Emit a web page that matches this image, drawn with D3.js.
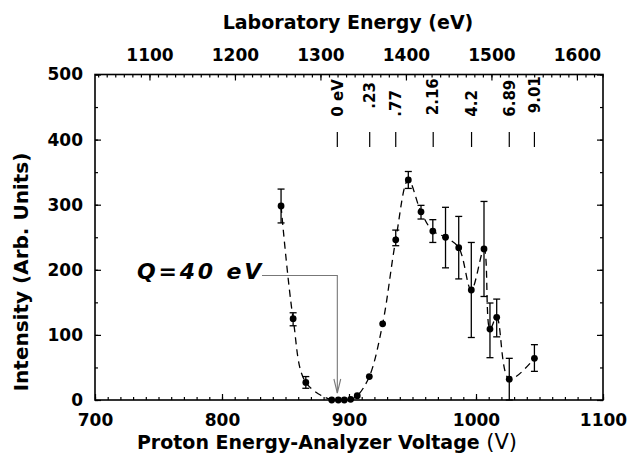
<!DOCTYPE html>
<html>
<head>
<meta charset="utf-8">
<script src="https://cdn.jsdelivr.net/npm/d3@7"></script>
<style>
  html, body { margin: 0; padding: 0; background: #fff; }
  svg { display: block; }
  text { font-family: "DejaVu Sans", sans-serif; fill: #000; }
</style>
</head>
<body>
<svg id="chart" width="628" height="453"></svg>
<script>
// Measured spectrum: analyzer voltage (V) vs. intensity (arb. units)
const voltage   = [846.5, 856, 866, 886.4, 891.6, 896.3, 901.3, 906.5, 916, 926.5,
                   936.8, 946.7, 956.7, 966, 976, 986.4, 996.3, 1006.3, 1011, 1016.3, 1026.2, 1046];
const intensity = [298, 125, 27, 0, 0, 0, 1, 6.5, 36, 117,
                   246, 338, 289, 259.5, 250, 234, 169, 232, 109, 127, 32, 64];
// error bar limits (null = no bar drawn)
const errLow    = [272, 114, 18, null, null, null, null, null, null, null,
                   237, 325, 278, 242, 203, 186, 96, 159, 65, 97, 0, 44];
const errHigh   = [324, 134, 36, null, null, null, null, null, null, null,
                   261, 351, 299, 277, 296, 282, 242, 305, 149, 155, 64, 85];

// Excitation levels marked along the top of the plot
const levelVoltage = [890.8, 916.3, 936.8, 966.3, 996.5, 1026.2, 1046];
const levelLabels  = ["0 eV", ".23", ".77", "2.16", "4.2", "6.89", "9.01"];

// Axis ticks
const voltageTicks = [700, 800, 900, 1000, 1100];
const energyTicks  = [1100, 1200, 1300, 1400, 1500, 1600];
const intensityTicks = [0, 100, 200, 300, 400, 500];

// Laboratory energy at the two ends of the voltage range
const energyAtVmin = 1036.3, energyAtVmax = 1630.5;

const qLabel = "Q=40 eV";

const svg = d3.select("#chart");
const plotL = 95, plotR = 603, plotT = 74.5, plotB = 400;

const x = d3.scaleLinear().domain([700, 1100]).range([plotL, plotR]);
const xTop = d3.scaleLinear().domain([energyAtVmin, energyAtVmax]).range([plotL, plotR]);
const y = d3.scaleLinear().domain([0, 500]).range([plotB, plotT]);

function styleAxis(g, size) {
  g.selectAll("path.domain").remove();
  g.selectAll("line").attr("stroke", "#000").attr("stroke-width", 1.2);
  g.selectAll("text").attr("font-size", size).attr("font-weight", "bold")
    .attr("font-family", "DejaVu Sans").attr("fill", "#000");
}

// minor ticks
svg.append("g").attr("transform", `translate(0,${plotB})`)
  .call(d3.axisBottom(x).tickValues(d3.range(700, 1101, 10)).tickSize(-3).tickFormat(""))
  .call(g => styleAxis(g, 0));
svg.append("g").attr("transform", `translate(0,${plotT})`)
  .call(d3.axisTop(xTop).tickValues(d3.range(1040, 1631, 10)).tickSize(-3).tickFormat(""))
  .call(g => styleAxis(g, 0));
svg.append("g").attr("transform", `translate(${plotL},0)`)
  .call(d3.axisLeft(y).tickValues(d3.range(0, 501, 50)).tickSize(-3).tickFormat(""))
  .call(g => styleAxis(g, 0));
svg.append("g").attr("transform", `translate(${plotR},0)`)
  .call(d3.axisRight(y).tickValues(d3.range(0, 501, 50)).tickSize(-3).tickFormat(""))
  .call(g => styleAxis(g, 0));

// major ticks with labels
svg.append("g").attr("transform", `translate(0,${plotB})`)
  .call(d3.axisBottom(x).tickValues(voltageTicks).tickSize(-6).tickPadding(14).tickFormat(d3.format("d")))
  .call(g => styleAxis(g, 17));
svg.append("g").attr("transform", `translate(0,${plotT})`)
  .call(d3.axisTop(xTop).tickValues(energyTicks).tickSize(-6).tickPadding(14).tickFormat(d3.format("d")))
  .call(g => styleAxis(g, 17));
svg.append("g").attr("transform", `translate(${plotL},0)`)
  .call(d3.axisLeft(y).tickValues(intensityTicks).tickSize(-6).tickPadding(12).tickFormat(d3.format("d")))
  .call(g => styleAxis(g, 17));
svg.append("g").attr("transform", `translate(${plotR},0)`)
  .call(d3.axisRight(y).tickValues(intensityTicks).tickSize(-6).tickFormat(""))
  .call(g => styleAxis(g, 0));

// frame
svg.append("rect").attr("x", plotL).attr("y", plotT)
  .attr("width", plotR - plotL).attr("height", plotB - plotT)
  .attr("fill", "none").attr("stroke", "#000").attr("stroke-width", 1.6);

// axis titles
svg.append("text").attr("x", 348).attr("y", 29).attr("text-anchor", "middle")
  .attr("font-size", 19).attr("font-weight", "bold").text("Laboratory Energy (eV)");

const xt = svg.append("text").attr("x", 327).attr("y", 449).attr("text-anchor", "middle")
  .attr("font-size", 19).attr("font-weight", "bold");
xt.append("tspan").text("Proton Energy-Analyzer Voltage ");
xt.append("tspan").attr("font-weight", "normal").attr("font-size", 21).text("(V)");

svg.append("text").attr("transform", "translate(28,272) rotate(-90)")
  .attr("text-anchor", "middle").attr("font-size", 20).attr("font-weight", "bold")
  .text("Intensity (Arb. Units)");

// level markers
const labelLift = [0, 8, 0, 1.5, 0, 0, 3.5];
const levels = svg.append("g");
levelVoltage.forEach((v, i) => {
  levels.append("line").attr("x1", x(v)).attr("x2", x(v)).attr("y1", 132).attr("y2", 147)
    .attr("stroke", "#000").attr("stroke-width", 1.2);
  levels.append("text")
    .attr("transform", `translate(${x(v)},${116.7 - labelLift[i]}) rotate(-90)`)
    .attr("dy", "0.35em").attr("font-size", 15).attr("font-weight", "bold")
    .text(levelLabels[i]);
});

// Q-value label and arrow to the 0 eV position
const ax = x(levelVoltage[0]);
svg.append("text").attr("x", 264).attr("y", 279).attr("text-anchor", "end")
  .attr("font-size", 22).attr("font-weight", "bold").attr("font-style", "italic")
  .attr("letter-spacing", 2.8).text(qLabel);
svg.append("path").attr("d", `M262,275.5H${ax}V${y(0) - 7}`)
  .attr("fill", "none").attr("stroke", "#777").attr("stroke-width", 1.1);
svg.append("path").attr("d", `M${ax - 3.4},${y(0) - 21}L${ax},${y(0) - 7}L${ax + 3.4},${y(0) - 21}`)
  .attr("fill", "none").attr("stroke", "#777").attr("stroke-width", 1.1);

// dashed guide curve through the data
const pts = voltage.map((v, i) => [v, intensity[i]]);
svg.append("path")
  .attr("d", d3.line().x(d => x(d[0])).y(d => y(d[1])).curve(d3.curveCatmullRom.alpha(0.5))(pts))
  .attr("fill", "none").attr("stroke", "#000").attr("stroke-width", 1.3)
  .attr("stroke-dasharray", "7,5");

// error bars
const eb = svg.append("g").attr("stroke", "#000").attr("stroke-width", 1.3);
voltage.forEach((v, i) => {
  if (errLow[i] == null) return;
  const cx = x(v);
  eb.append("line").attr("x1", cx).attr("x2", cx).attr("y1", y(errLow[i])).attr("y2", y(errHigh[i]));
  eb.append("line").attr("x1", cx - 3.5).attr("x2", cx + 3.5).attr("y1", y(errLow[i])).attr("y2", y(errLow[i]));
  eb.append("line").attr("x1", cx - 3.5).attr("x2", cx + 3.5).attr("y1", y(errHigh[i])).attr("y2", y(errHigh[i]));
});

// data points
svg.append("g").selectAll("circle").data(pts).join("circle")
  .attr("cx", d => x(d[0])).attr("cy", d => y(d[1])).attr("r", 3.4).attr("fill", "#000");
</script>
</body>
</html>
